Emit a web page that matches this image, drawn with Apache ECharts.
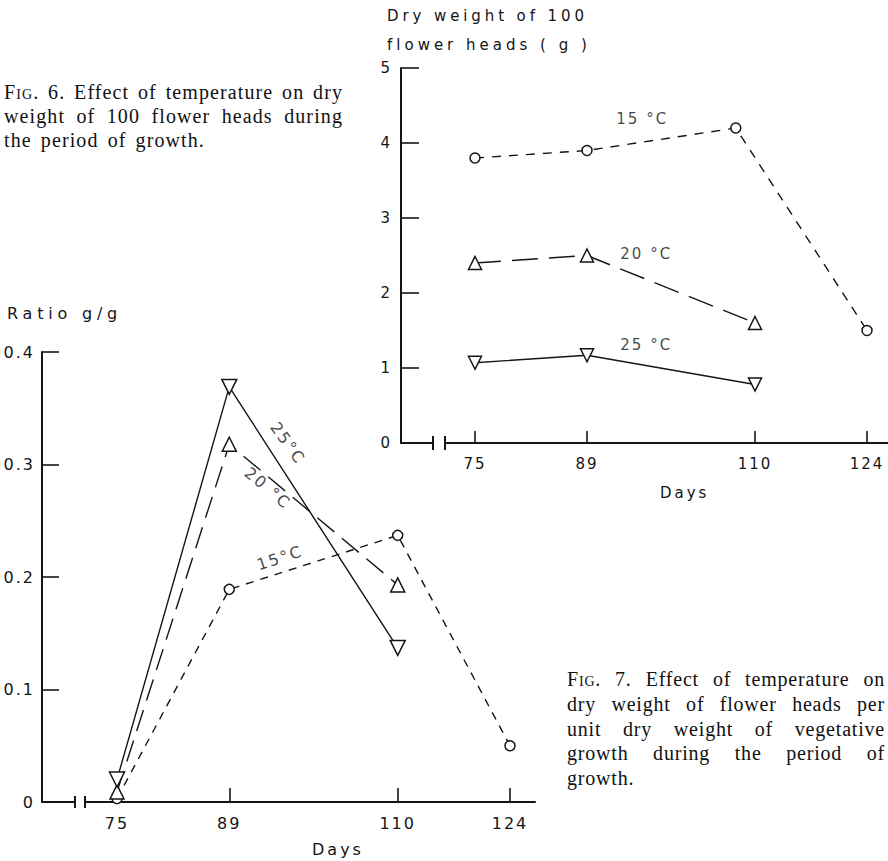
<!DOCTYPE html>
<html>
<head>
<meta charset="utf-8">
<script src="https://cdn.jsdelivr.net/npm/echarts@6/dist/echarts.min.js"></script>
<style>
  html, body { margin: 0; padding: 0; background: #fff; overflow: hidden; }
  #chart { position: absolute; left: 0; top: 0; width: 888px; height: 861px; }
  #chart svg text { letter-spacing: 2px; }
  .cap { position: absolute; font-family: "Liberation Serif", "DejaVu Serif", serif;
         font-size: 20px; line-height: 24px; color: #111; letter-spacing: 1.1px; }
  .cap div { text-align: justify; text-align-last: justify; white-space: nowrap; }
  .cap div.last { text-align-last: left; word-spacing: 3px; }
  .sc { font-variant: small-caps; }
</style>
</head>
<body>
<div id="chart"></div>

<div class="cap" style="left:4px; top:80px; width:339px;">
  <div><span class="sc">Fig</span>. 6. Effect of temperature on dry</div>
  <div>weight of 100 flower heads during</div>
  <div class="last">the period of growth.</div>
</div>

<div class="cap" style="left:567px; top:667px; width:318px; line-height:24.8px; letter-spacing:0.8px;">
  <div><span class="sc">Fig</span>. 7. Effect of temperature on</div>
  <div>dry weight of flower heads per</div>
  <div>unit dry weight of vegetative</div>
  <div>growth during the period of</div>
  <div class="last">growth.</div>
</div>

<script>
// Sampling days shared by both figures
const dayTicks = [75, 89, 110, 124];

// Fig. 6 - dry weight of 100 flower heads (g)
const fig6Days15 = [75, 89, 107.6, 124];
const fig6Heads15 = [3.8, 3.9, 4.2, 1.5];
const fig6Days20 = [75, 89, 110];
const fig6Heads20 = [2.4, 2.5, 1.6];
const fig6Days25 = [75, 89, 110];
const fig6Heads25 = [1.07, 1.17, 0.78];
const fig6YTicks = [0, 1, 2, 3, 4, 5];

// Fig. 7 - ratio of flower-head to vegetative dry weight (g/g)
const fig7Days15 = [75, 89, 110, 124];
const fig7Ratio15 = [0.003, 0.189, 0.237, 0.05];
const fig7Days20 = [75, 89, 110];
const fig7Ratio20 = [0.009, 0.318, 0.193];
const fig7Days25 = [75, 89, 110];
const fig7Ratio25 = [0.02, 0.369, 0.137];

// Curve annotations: [day, value, text, rotation in degrees]
const fig6Notes = [[95.9, 4.32, '15 °C', 0], [96.4, 2.52, '20 °C', 0], [96.4, 1.31, '25 °C', 0]];
const fig7Notes = [[96.3, 0.319, '25°C', -54], [93.8, 0.279, '20 °C', -40], [95.3, 0.217, '15°C', 18]];

// Wider lettering for the axis titles
const titleSpacing = {
  'Dry weight of 100': '3.9px',
  'flower heads ( g )': '4px',
  'Ratio g/g': '4.8px',
  'Days': '3px'
};

const INK = '#151515';
const FONT = '"DejaVu Sans", "Liberation Sans", sans-serif';

const chart = echarts.init(document.getElementById('chart'), null, { renderer: 'svg' });

function curve(idx, xs, ys, symbol, size, rotate, dash) {
  return {
    type: 'line', xAxisIndex: idx, yAxisIndex: idx,
    data: xs.map((x, i) => [x, ys[i]]),
    symbol: symbol, symbolSize: size, symbolRotate: rotate, showAllSymbol: true,
    lineStyle: { color: INK, width: 1.4, type: dash },
    itemStyle: { color: '#fff', borderColor: INK, borderWidth: 1.5 },
    emphasis: { disabled: true }, z: 3, animation: false, clip: false
  };
}

function notes(idx, list, size) {
  return {
    type: 'scatter', xAxisIndex: idx, yAxisIndex: idx, symbolSize: 0, silent: true, z: 4,
    data: list.map(n => ({ value: [n[0], n[1]], label: { formatter: n[2], rotate: n[3] } })),
    label: { show: true, position: 'inside', color: INK, fontSize: size, fontFamily: FONT },
    animation: false
  };
}

// Broken-axis marks "| |" on the day axis between two day values
function axisBreak(idx, from, to, half) {
  return {
    type: 'custom', xAxisIndex: idx, yAxisIndex: idx, silent: true, z: 6, clip: false,
    data: [[from, to]], animation: false,
    renderItem: function (params, api) {
      const a = api.coord([api.value(0), 0]);
      const b = api.coord([api.value(1), 0]);
      return {
        type: 'group', children: [
          { type: 'rect', shape: { x: a[0], y: a[1] - 3, width: b[0] - a[0], height: 6 }, style: { fill: '#fff' } },
          { type: 'line', shape: { x1: a[0], y1: a[1] - half, x2: a[0], y2: a[1] + half }, style: { stroke: INK, lineWidth: 2 } },
          { type: 'line', shape: { x1: b[0], y1: a[1] - half, x2: b[0], y2: a[1] + half }, style: { stroke: INK, lineWidth: 2 } }
        ]
      };
    }
  };
}

function dayAxis(idx, min, max, tickLen, size) {
  return {
    type: 'value', gridIndex: idx, min: min, max: max,
    axisLine: { show: true, onZero: false, lineStyle: { color: INK, width: 2 } },
    axisTick: { show: true, inside: true, length: tickLen, customValues: dayTicks, lineStyle: { color: INK, width: 1.6 } },
    axisLabel: { customValues: dayTicks, margin: 13, color: INK, fontSize: size, fontFamily: FONT },
    splitLine: { show: false }
  };
}

function heading(text, left, top, size, lh) {
  return { text: text, left: left, top: top, padding: 0,
    textStyle: { color: INK, fontSize: size, fontWeight: 'normal', lineHeight: lh, fontFamily: FONT } };
}

const option = {
  backgroundColor: '#fff',
  animation: false,
  title: [
    heading('Dry weight of 100\nflower heads ( g )', 387, 1, 15, 29),
    heading('Days', 660, 484, 15, 18),
    heading('Ratio g/g', 7, 303, 16, 20),
    heading('Days', 312, 839, 16, 20)
  ],
  grid: [
    { left: 401, top: 68, width: 487, height: 375 },
    { left: 42, top: 352, width: 493, height: 450 }
  ],
  xAxis: [
    dayAxis(0, 65.75, 126.625, 12, 15),
    dayAxis(1, 65.649, 127.118, 14, 16)
  ],
  yAxis: [
    { type: 'value', gridIndex: 0, min: 0, max: 5, interval: 1,
      axisLine: { show: true, onZero: false, lineStyle: { color: INK, width: 2 } },
      axisTick: { show: true, inside: true, length: 18, customValues: fig6YTicks, lineStyle: { color: INK, width: 1.6 } },
      axisLabel: { customValues: fig6YTicks, margin: 9, color: INK, fontSize: 15, fontFamily: FONT },
      splitLine: { show: false } },
    { type: 'value', gridIndex: 1, min: 0, max: 0.4, interval: 0.1,
      axisLine: { show: true, onZero: false, lineStyle: { color: INK, width: 2 } },
      axisTick: { show: true, inside: true, length: 17, lineStyle: { color: INK, width: 1.6 } },
      axisLabel: { margin: 7, color: INK, fontSize: 16, fontFamily: FONT },
      splitLine: { show: false } }
  ],
  series: [
    curve(0, fig6Days15, fig6Heads15, 'circle', 10, 0, [9, 8]),
    curve(0, fig6Days20, fig6Heads20, 'triangle', 13, 0, [26, 11]),
    curve(0, fig6Days25, fig6Heads25, 'triangle', 13, 180, 'solid'),
    notes(0, fig6Notes, 15),
    axisBreak(0, 69.75, 71.25, 7),

    curve(1, fig7Days15, fig7Ratio15, 'circle', 10, 0, [8, 7]),
    curve(1, fig7Days20, fig7Ratio20, 'triangle', 14, 0, [22, 10]),
    curve(1, fig7Days25, fig7Ratio25, 'triangle', 15, 180, 'solid'),
    notes(1, fig7Notes, 16),
    axisBreak(1, 69.76, 71.01, 6)
  ]
};

chart.setOption(option);

function spaceTitles() {
  document.querySelectorAll('#chart svg text').forEach(function (t) {
    const s = titleSpacing[t.textContent.trim()];
    if (s) t.style.letterSpacing = s;
  });
}
spaceTitles();
chart.on('finished', spaceTitles);
</script>
</body>
</html>
